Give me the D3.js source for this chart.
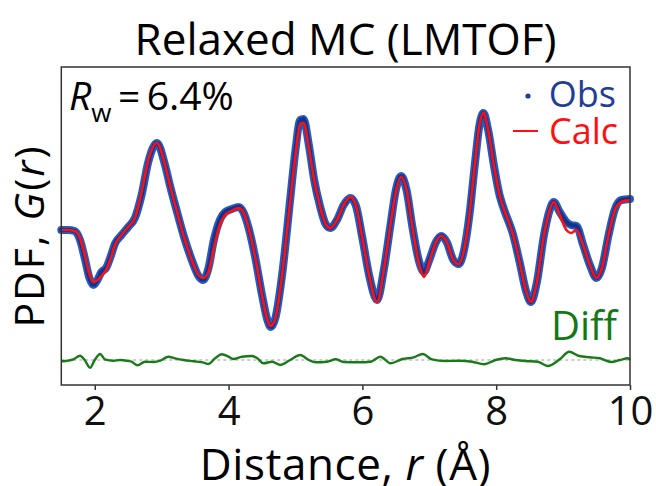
<!DOCTYPE html>
<html lang="en">
<head>
    <meta charset="UTF-8">
    <title>Relaxed MC (LMTOF)</title>
    <style>
        body {
            margin: 0;
            background-color: #ffffff;
        }
        svg text {
            font-family: "Open Sans", "Noto Sans", sans-serif;
        }
    </style>
    <script src="https://d3js.org/d3.v7.min.js"></script>
</head>
<body>
    <svg width="656" height="486"></svg>

    <script>
        // r grid (Å)
        const rFit = [1.50, 1.60, 1.70, 1.78, 1.85, 1.92, 1.98, 2.04, 2.10, 2.17, 2.24, 2.30, 2.40, 2.50, 2.60,
            2.70, 2.80, 2.93, 3.05, 3.13, 3.23, 3.33, 3.45, 3.55, 3.62, 3.70, 3.78, 3.87, 3.95, 4.05, 4.15,
            4.22, 4.30, 4.40, 4.50, 4.58, 4.63, 4.70, 4.80, 4.92, 5.00, 5.07, 5.12, 5.20, 5.28, 5.37, 5.45,
            5.52, 5.62, 5.72, 5.82, 5.90, 6.00, 6.10, 6.22, 6.32, 6.42, 6.50, 6.58, 6.66, 6.75, 6.85, 6.92,
            7.00, 7.10, 7.18, 7.26, 7.36, 7.44, 7.52, 7.60, 7.68, 7.75, 7.81, 7.88, 7.97, 8.05, 8.12, 8.25,
            8.35, 8.45, 8.52, 8.60, 8.72, 8.80, 8.86, 8.95, 9.05, 9.12, 9.20, 9.30, 9.40, 9.50, 9.58, 9.68,
            9.77, 9.87, 10.0];

        // observed G(r)
        const gObs = [0, 0, -0.05, -0.5, -1.4, -2.4, -2.75, -2.5, -2.1, -1.9, -1.3, -0.7, -0.25, 0.15, 0.6,
            1.75, 3.4, 4.35, 3.25, 2.15, 0.9, -0.3, -1.5, -2.3, -2.5, -1.9, -0.5, 0.5, 0.9, 1.05, 1.15,
            0.9, 0.1, -1.4, -3.25, -4.5, -4.85, -4.4, -2.25, 1.5, 4.0, 5.5, 5.55, 4.25, 2.5, 1.15, 0.3,
            0.1, 0.5, 1.25, 1.6, 1.25, -0.4, -2.25, -3.5, -2.0, 0.25, 2.0, 2.7, 2.0, 0.1, -1.6, -2.1,
            -1.5, -0.6, -0.3, -0.6, -1.5, -1.7, -1.0, 0.75, 3.25, 5.25, 5.85, 5.0, 3.15, 1.75, 1.0, -0.2,
            -1.6, -3.1, -3.6, -2.75, -0.15, 1.0, 1.4, 0.9, 0.4, 0.25, 0.2, -0.75, -1.75, -2.4, -1.9, -0.25,
            1.0, 1.5, 1.55];

        // calculated G(r)
        const gCalc = [0, 0, -0.05, -0.4, -1.25, -2.2, -2.6, -2.5, -2.3, -2.0, -1.4, -0.75, -0.25, 0.15, 0.6,
            1.9, 3.5, 4.35, 3.25, 2.15, 0.9, -0.3, -1.5, -2.25, -2.4, -2.1, -0.9, 0.25, 0.75, 0.95, 1.1,
            0.9, 0.1, -1.4, -3.25, -4.5, -4.8, -4.4, -2.25, 1.4, 3.75, 5.3, 5.35, 4.1, 2.5, 1.15, 0.3,
            0.1, 0.5, 1.25, 1.65, 1.25, -0.4, -2.25, -3.6, -2.0, 0.25, 1.9, 2.65, 2.0, 0.1, -1.75, -2.35,
            -1.6, -0.6, -0.3, -0.6, -1.5, -1.7, -1.0, 0.75, 3.25, 5.25, 5.85, 5.0, 3.15, 1.75, 1.0, -0.2,
            -1.6, -3.1, -3.6, -2.75, -0.15, 1.0, 1.4, 0.75, 0.0, -0.15, 0.0, -0.75, -1.75, -2.4, -1.9, -0.25,
            0.95, 1.4, 1.5];

        // difference curve, drawn shifted down by diffOffset
        const rDiff = [1.51, 1.68, 1.78, 1.85, 1.93, 2.00, 2.08, 2.15, 2.28, 2.38, 2.48, 2.55, 2.64, 2.75,
            2.88, 2.98, 3.10, 3.20, 3.33, 3.48, 3.63, 3.70, 3.80, 3.90, 4.00, 4.07, 4.20, 4.35, 4.43, 4.52,
            4.65, 4.77, 4.92, 5.07, 5.20, 5.30, 5.47, 5.60, 5.72, 5.95, 6.12, 6.27, 6.42, 6.60, 6.77, 6.90,
            7.04, 7.24, 7.44, 7.64, 7.82, 7.99, 8.14, 8.29, 8.44, 8.62, 8.77, 8.95, 9.09, 9.24, 9.40, 9.55,
            9.72, 9.85, 9.97, 10.0];
        const gDiff = [-0.065, 0.035, 0.215, 0, -0.385, 0, 0.3, 0.035, -0.035, 0, -0.035, -0.085, -0.265, -0.085,
            -0.1, -0.035, 0.165, 0.085, 0, -0.065, -0.135, -0.2, 0.085, 0.285, 0.165, 0.05, 0.165, 0.2, 0.085, -0.165,
            -0.085, -0.25, 0, 0.25, 0, -0.115, -0.085, 0.035, -0.1, -0.115, -0.085, 0.165, -0.165, 0.05, 0.135, 0.3,
            0.035, -0.05, -0.035, -0.085, -0.215, 0, 0.085, 0, -0.05, -0.085, -0.3, 0.035, 0.415, 0.2, 0.135, 0.085,
            -0.1, 0, 0.085, 0];
        const diffOffset = -6.5;

        const xTicks = [2, 4, 6, 8, 10];

        const svg = d3.select("svg");

        const x = d3.scaleLinear().domain([1.5, 10]).range([61.3, 630]);
        const y = d3.scaleLinear().domain([-7.75, 8.15]).range([385, 67]);

        const obs = rFit.map((r, i) => ({ r: r, g: gObs[i] }));
        const calc = rFit.map((r, i) => ({ r: r, g: gCalc[i] }));
        const diff = rDiff.map((r, i) => ({ r: r, g: gDiff[i] + diffOffset }));

        const line = d3.line()
            .x(d => x(d.r))
            .y(d => y(d.g))
            .curve(d3.curveMonotoneX);

        // titles
        svg.append("text")
            .attr("x", 345.5)
            .attr("y", 55)
            .attr("text-anchor", "middle")
            .style("font-size", "44px")
            .text("Relaxed MC (LMTOF)");

        svg.append("text")
            .attr("transform", "translate(44,236) rotate(-90)")
            .attr("text-anchor", "middle")
            .style("font-size", "41px")
            .style("letter-spacing", "2px")
            .html('PDF, <tspan font-style="italic">G</tspan>(<tspan font-style="italic">r</tspan>)');

        svg.append("text")
            .attr("x", 345.5)
            .attr("y", 480)
            .attr("text-anchor", "middle")
            .style("font-size", "44px")
            .style("letter-spacing", "0.6px")
            .html('Distance, <tspan font-style="italic">r</tspan> (Å)');

        // zero line of the diff curve
        svg.append("line")
            .attr("x1", x(1.5))
            .attr("x2", x(10))
            .attr("y1", y(diffOffset))
            .attr("y2", y(diffOffset))
            .style("stroke", "#999")
            .style("stroke-width", 1.2)
            .style("stroke-dasharray", "3,3");

        // obs: blue band plus dark dots along it
        svg.append("path")
            .datum(obs)
            .attr("d", line)
            .style("fill", "none")
            .style("stroke", "#2a5abb")
            .style("stroke-width", 8)
            .style("stroke-linecap", "round");

        svg.append("path")
            .datum(obs)
            .attr("d", line)
            .style("fill", "none")
            .style("stroke", "#16338c")
            .style("stroke-width", 4.5)
            .style("stroke-linecap", "round")
            .style("stroke-dasharray", "0,2.8");

        svg.append("path")
            .datum(calc)
            .attr("d", line)
            .style("fill", "none")
            .style("stroke", "#ff1010")
            .style("stroke-width", 2.6);

        svg.append("path")
            .datum(diff)
            .attr("d", line)
            .style("fill", "none")
            .style("stroke", "#1a7a1a")
            .style("stroke-width", 2.4);

        // frame
        svg.append("rect")
            .attr("x", x(1.5))
            .attr("y", 67)
            .attr("width", x(10) - x(1.5))
            .attr("height", 385 - 67)
            .style("fill", "none")
            .style("stroke", "#333")
            .style("stroke-width", 1.5);

        const xAxis = svg.append("g")
            .attr("transform", "translate(0,385)")
            .call(d3.axisBottom(x).tickValues(xTicks).tickSize(5).tickPadding(7));
        xAxis.select(".domain").remove();
        xAxis.selectAll("line").style("stroke", "#333").style("stroke-width", 1.5);
        xAxis.selectAll("text")
            .style("font-family", '"Open Sans", sans-serif')
            .style("font-size", "40px")
            .style("fill", "#111");

        // R_w annotation
        svg.append("text")
            .attr("x", 69)
            .attr("y", 110)
            .style("font-size", "39px")
            .html('<tspan font-style="italic">R</tspan><tspan dy="12" font-size="26px">w</tspan><tspan dy="-12">\u2009=\u20096.4%</tspan>');

        // legend
        svg.append("circle")
            .attr("cx", 528)
            .attr("cy", 96)
            .attr("r", 2.6)
            .style("fill", "#1f3d99");
        svg.append("text")
            .attr("x", 616)
            .attr("y", 107)
            .attr("text-anchor", "end")
            .style("font-size", "36px")
            .style("fill", "#1f3d99")
            .text("Obs");

        svg.append("line")
            .attr("x1", 513)
            .attr("x2", 538)
            .attr("y1", 131)
            .attr("y2", 131)
            .style("stroke", "#ff1010")
            .style("stroke-width", 2);
        svg.append("text")
            .attr("x", 618)
            .attr("y", 144)
            .attr("text-anchor", "end")
            .style("font-size", "36px")
            .style("fill", "#ff1010")
            .text("Calc");

        svg.append("text")
            .attr("x", 617)
            .attr("y", 340)
            .attr("text-anchor", "end")
            .style("font-size", "40px")
            .style("fill", "#147814")
            .text("Diff");
    </script>
</body>
</html>
